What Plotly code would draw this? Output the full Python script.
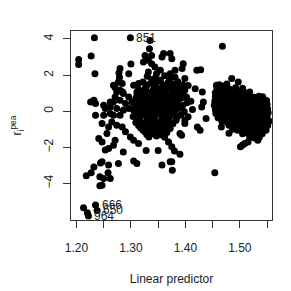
import plotly.graph_objects as go

# Left cluster (sparse points)
left_x = [1.233, 1.299, 1.204, 1.204, 1.227, 1.234, 1.300,
          1.280, 1.278, 1.279, 1.268, 1.271, 1.284, 1.296, 1.285, 1.305, 1.311,
          1.335, 1.334, 1.326, 1.323, 1.360, 1.357, 1.375, 1.396, 1.394, 1.421, 1.372, 1.338, 1.344, 1.332, 1.354, 1.314, 1.317, 1.418,
          1.381, 1.399, 1.396, 1.402, 1.393, 1.378, 1.399, 1.405, 1.428, 1.431, 1.433, 1.430, 1.438, 1.422, 1.427, 1.393,
          1.314, 1.369, 1.390, 1.399,
          1.253, 1.286, 1.328, 1.350, 1.380, 1.390,
          1.247, 1.244, 1.259, 1.277, 1.305, 1.311, 1.357, 1.372, 1.376, 1.232, 1.227, 1.218, 1.258, 1.243, 1.250, 1.262, 1.247, 1.243,
          1.375, 1.375,
          1.226, 1.235, 1.232, 1.250, 1.253, 1.235, 1.250, 1.262, 1.247, 1.268, 1.265, 1.259, 1.256, 1.280, 1.274, 1.284, 1.290, 1.241, 1.247, 1.271, 1.268, 1.259, 1.299, 1.305,
          1.274, 1.286, 1.296, 1.280, 1.290, 1.302, 1.311, 1.317, 1.305, 1.296, 1.286, 1.274, 1.262, 1.268,
          1.262, 1.271, 1.280, 1.277, 1.332, 1.338, 1.372, 1.347,
          1.213, 1.220, 1.235, 1.238, 1.222]
left_y = [4.07, 4.07, 2.86, 2.58, 3.06, 2.08, 2.61,
          2.36, 2.12, 1.86, 1.44, 1.31, 1.53, 2.08, 1.07, 1.44, 1.07,
          3.92, 3.46, 3.09, 2.72, 3.19, 3.00, 2.91, 2.63, 2.36, 2.27, 2.08, 2.63, 2.45, 2.17, 2.27, 1.53, 0.98, 1.25,
          2.27, 1.81, 1.34, 0.79, 0.24, 0.06, -0.50, -0.31, 2.30, 1.07, 0.51, 0.24, -0.40, -0.87, -1.05, -1.33,
          -1.78, -1.70, -1.23, -0.68,
          -2.15, -2.25, -2.18, -2.18, -2.20, -2.38,
          -2.80, -2.86, -2.98, -2.89, -2.75, -2.89, -2.98, -2.80, -3.26, -3.08, -3.41, -3.57, -3.41, -3.63, -3.72, -3.72, -4.09, -4.13,
          -1.97, -2.80,
          0.51, 0.43, 0.61, 0.33, 0.15, -0.22, -0.22, -0.13, -0.68, -0.22, -0.59, -0.87, -1.23, -0.22, -0.77, -0.87, -1.14, -1.51, -1.70, -1.60, -1.88, -2.06, -1.42, -1.60,
          1.07, 0.98, 0.79, 0.61, 0.43, 0.51, 0.88, 0.33, 0.06, 0.15, 0.06, 0.15, 0.24, 0.51,
          0.51, 0.79, 1.16, 1.62, 2.82, 3.09, 3.19, 2.08,
          -5.34, -5.62, -5.19, -5.49, -5.80]

# Left cluster (dense core)
core_x = [1.330, 1.345, 1.362, 1.381,
          1.322, 1.338, 1.351, 1.368, 1.386,
          1.327, 1.343, 1.356, 1.374, 1.389, 1.405,
          1.320, 1.333, 1.348, 1.361, 1.377, 1.392,
          1.316, 1.329, 1.341, 1.355, 1.369, 1.384, 1.397,
          1.320, 1.334, 1.347, 1.360, 1.373, 1.387, 1.410,
          1.312, 1.326, 1.339, 1.352, 1.366, 1.380, 1.395,
          1.318, 1.331, 1.344, 1.358, 1.371, 1.386, 1.413,
          1.310, 1.323, 1.337, 1.350, 1.364, 1.378, 1.392,
          1.316, 1.330, 1.343, 1.357, 1.370, 1.384,
          1.309, 1.322, 1.336, 1.349, 1.363, 1.377,
          1.318, 1.331, 1.345, 1.358, 1.372,
          1.325, 1.339, 1.352, 1.366,
          1.333, 1.347, 1.362,
          1.338, 1.354, 1.371,
          1.330, 1.345, 1.360, 1.377, 1.395,
          1.314, 1.327, 1.341, 1.354, 1.368, 1.383, 1.399,
          1.323, 1.336, 1.349, 1.363, 1.376, 1.390,
          1.309, 1.323, 1.337, 1.350, 1.363, 1.377, 1.392,
          1.317, 1.331, 1.345, 1.358, 1.371, 1.385, 1.403,
          1.306, 1.320, 1.334, 1.348, 1.361, 1.375, 1.390,
          1.312, 1.326, 1.339, 1.353, 1.366, 1.380, 1.398,
          1.304, 1.318, 1.331, 1.344, 1.358, 1.372, 1.386,
          1.315, 1.329, 1.342, 1.356, 1.369, 1.383,
          1.314, 1.328, 1.341, 1.354, 1.368,
          1.322, 1.336, 1.349, 1.362,
          1.329, 1.343, 1.357]
core_y = [1.93, 1.85, 1.97, 1.88,
          1.62, 1.55, 1.66, 1.58, 1.63,
          1.31, 1.39, 1.28, 1.36, 1.30, 1.42,
          1.12, 1.05, 1.14, 1.08, 1.15, 1.04,
          0.82, 0.90, 0.79, 0.87, 0.81, 0.92, 0.84,
          0.57, 0.64, 0.55, 0.62, 0.58, 0.66, 0.55,
          0.33, 0.38, 0.30, 0.37, 0.31, 0.39, 0.32,
          0.08, 0.14, 0.05, 0.12, 0.07, 0.15, 0.10,
          -0.18, -0.11, -0.20, -0.13, -0.17, -0.10, -0.19,
          -0.42, -0.36, -0.45, -0.38, -0.43, -0.35,
          -0.62, -0.69, -0.61, -0.68, -0.63, -0.70,
          -0.93, -0.86, -0.94, -0.88, -0.95,
          -1.12, -1.19, -1.13, -1.18,
          -1.43, -1.37, -1.44,
          1.76, 1.72, 1.79,
          1.47, 1.50, 1.45, 1.49, 1.46,
          1.20, 1.24, 1.19, 1.23, 1.21, 1.25, 1.18,
          0.96, 0.99, 0.94, 0.98, 0.95, 1.00,
          0.71, 0.74, 0.69, 0.73, 0.70, 0.75, 0.72,
          0.46, 0.49, 0.44, 0.48, 0.45, 0.50, 0.47,
          0.21, 0.24, 0.19, 0.23, 0.20, 0.25, 0.22,
          -0.04, -0.01, -0.06, -0.02, -0.05, 0.00, -0.03,
          -0.29, -0.26, -0.31, -0.27, -0.30, -0.25, -0.28,
          -0.54, -0.51, -0.56, -0.52, -0.55, -0.50,
          -0.79, -0.76, -0.81, -0.77, -0.80,
          -1.04, -1.01, -1.06, -1.02,
          -1.29, -1.26, -1.31]

# Right cluster
right_x = [1.485, 1.497, 1.457, 1.462, 1.470, 1.476,
           1.458, 1.468, 1.480, 1.492, 1.505,
           1.455, 1.464, 1.473, 1.482, 1.491, 1.500, 1.509, 1.518,
           1.455, 1.463, 1.472, 1.481, 1.490, 1.499, 1.508, 1.517, 1.526, 1.535, 1.542,
           1.454, 1.462, 1.471, 1.480, 1.489, 1.498, 1.507, 1.516, 1.525, 1.534, 1.543, 1.549,
           1.453, 1.461, 1.470, 1.479, 1.488, 1.497, 1.506, 1.515, 1.524, 1.533, 1.542, 1.550,
           1.455, 1.464, 1.473, 1.482, 1.491, 1.500, 1.509, 1.518, 1.527, 1.536, 1.545, 1.551,
           1.456, 1.465, 1.474, 1.483, 1.492, 1.501, 1.510, 1.519, 1.528, 1.537, 1.546, 1.552,
           1.460, 1.469, 1.478, 1.487, 1.496, 1.505, 1.514, 1.523, 1.532, 1.541, 1.550,
           1.467, 1.476, 1.485, 1.494, 1.503, 1.512, 1.521, 1.530, 1.539, 1.548, 1.554,
           1.466, 1.480, 1.490, 1.499, 1.508, 1.517, 1.526, 1.535, 1.544, 1.551,
           1.487, 1.496, 1.505, 1.514, 1.523, 1.532, 1.541, 1.548,
           1.480, 1.505, 1.514, 1.523, 1.532, 1.541,
           1.518, 1.527, 1.536, 1.533, 1.515, 1.509, 1.505, 1.501,
           1.468, 1.454]
right_y = [1.81, 1.62, 1.44, 1.47, 1.40, 1.50,
           1.26, 1.31, 1.24, 1.30, 1.27,
           1.02, 1.08, 1.01, 1.07, 1.03, 1.09, 1.02, 1.06,
           0.80, 0.85, 0.78, 0.84, 0.79, 0.86, 0.80, 0.85, 0.78, 0.83, 0.80,
           0.55, 0.61, 0.56, 0.60, 0.54, 0.62, 0.57, 0.60, 0.55, 0.61, 0.56, 0.60,
           0.33, 0.38, 0.31, 0.37, 0.32, 0.38, 0.34, 0.36, 0.31, 0.38, 0.33, 0.37,
           0.10, 0.15, 0.09, 0.14, 0.11, 0.16, 0.08, 0.13, 0.10, 0.15, 0.09, 0.13,
           -0.13, -0.08, -0.14, -0.09, -0.12, -0.07, -0.14, -0.10, -0.13, -0.08, -0.12, -0.09,
           -0.36, -0.31, -0.37, -0.32, -0.35, -0.30, -0.37, -0.33, -0.36, -0.31, -0.35,
           -0.55, -0.60, -0.54, -0.59, -0.56, -0.61, -0.54, -0.58, -0.55, -0.60, -0.56,
           -0.87, -0.78, -0.83, -0.77, -0.82, -0.79, -0.84, -0.78, -0.83, -0.79,
           -1.00, -1.05, -0.99, -1.06, -1.01, -1.04, -1.00, -1.05,
           -1.22, -1.25, -1.20, -1.26, -1.21, -1.24,
           -1.45, -1.48, -1.43, -1.60, -1.70, -1.79, -1.87, -1.97,
           3.59, -3.41]

# Labelled observations
label_x = [1.299, 1.235, 1.238, 1.222]
label_y = [4.07, -5.19, -5.49, -5.80]
label_text = ["851", "666", "650", "964"]

x_tickvals = [1.20, 1.30, 1.40, 1.50]
x_ticktext = ["1.20", "1.30", "1.40", "1.50"]
x_minor_ticks = [1.25, 1.35, 1.45, 1.55]
y_tickvals = [-4, -2, 0, 2, 4]
y_ticktext = ["\u22124", "\u22122", "0", "2", "4"]

FONT = "Liberation Sans, Arial, sans-serif"

fig = go.Figure()
fig.add_trace(go.Scatter(
    x=left_x + core_x + right_x, y=left_y + core_y + right_y,
    mode="markers", marker=dict(color="black", size=7, line=dict(width=0)),
    showlegend=False, hoverinfo="skip"))

for lx, ly, lt in zip(label_x, label_y, label_text):
    fig.add_annotation(x=lx, y=ly, text=lt, showarrow=False, xanchor="left",
                       yanchor="middle", xshift=4,
                       font=dict(family=FONT, size=12, color="#222"))

# page body has an 8px default margin, so the figure is sized to fit the window
fig.update_layout(
    width=283, height=283, autosize=False,
    margin=dict(l=63, r=19, t=23, b=71),
    paper_bgcolor="white", plot_bgcolor="white",
    font=dict(family=FONT, size=12, color="#222"),
)
fig.update_xaxes(
    range=[1.190, 1.559], tickmode="array", tickvals=x_tickvals, ticktext=x_ticktext,
    minor=dict(tickmode="array", tickvals=x_minor_ticks, ticks="outside", ticklen=7,
               tickcolor="#333", showgrid=False),
    showgrid=False, zeroline=False, showline=True, mirror=True, automargin=False,
    linecolor="#333", linewidth=1, ticks="outside", ticklen=7, tickcolor="#333",
    ticklabelstandoff=10,
    title=dict(text="Linear predictor", standoff=20, font=dict(size=12)))
fig.update_yaxes(
    range=[-6.02, 4.44], tickvals=y_tickvals, ticktext=y_ticktext,
    showgrid=False, zeroline=False, showline=True, mirror=True, automargin=False,
    linecolor="#333", linewidth=1, ticks="outside", ticklen=7, tickcolor="#333",
    tickangle=-90, ticklabelstandoff=5,
    title=dict(text="r<sub>i</sub><sup>pea</sup>", standoff=36, font=dict(size=12)))

fig.write_html("out.html")
